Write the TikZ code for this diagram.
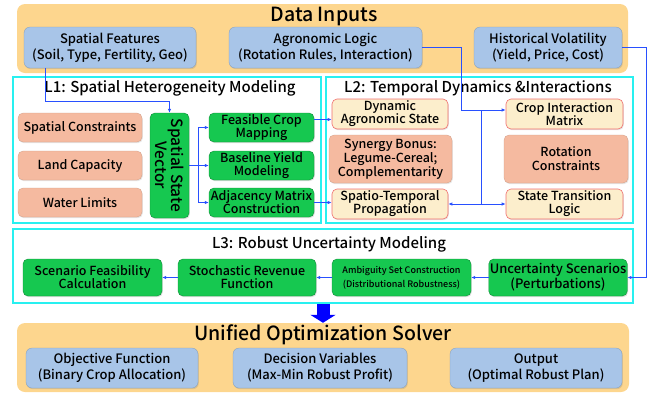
\documentclass[tikz,border=0pt]{standalone}
\usepackage{fontspec}
\setmainfont{Noto Sans CJK JP}[UprightFont=* Medium]
\usetikzlibrary{arrows.meta,shadows}

\definecolor{bandorange}{RGB}{253,214,142}
\definecolor{inblue}{RGB}{168,197,232}
\definecolor{framecyan}{RGB}{40,240,240}
\definecolor{boxsalmon}{RGB}{245,186,160}
\definecolor{boxgreen}{RGB}{22,200,80}
\definecolor{boxcream}{RGB}{252,238,204}
\definecolor{boxred}{RGB}{240,110,110}
\definecolor{linkblue}{RGB}{40,80,255}

\tikzset{
  band/.style={shape=rectangle,rounded corners=8pt,fill=bandorange,draw=none},
  bandtitle/.style={font=\fontsize{19.5}{22}\selectfont},
  layertitle/.style={font=\fontsize{15}{18}\selectfont},
  frame/.style={shape=rectangle,draw=framecyan,line width=1.5pt},
  inbox/.style={shape=rectangle,rounded corners=6pt,fill=inblue,draw=inblue!80!black,line width=0.3pt,
    align=center,inner sep=1pt,font=\fontsize{13}{16}\selectfont,
    drop shadow={opacity=0.25,shadow xshift=0.8pt,shadow yshift=-1.2pt}},
  salmonbox/.style={shape=rectangle,rounded corners=5pt,fill=boxsalmon,draw=boxsalmon!85!black,line width=0.3pt,
    align=center,inner sep=1pt,font=\fontsize{12.5}{14}\selectfont,
    drop shadow={opacity=0.2,shadow xshift=0.8pt,shadow yshift=-1.2pt}},
  greenbox/.style={shape=rectangle,rounded corners=5pt,fill=boxgreen,draw=boxgreen!70!black,line width=0.4pt,
    align=center,inner sep=1pt,font=\fontsize{12.5}{13}\selectfont,
    drop shadow={opacity=0.25,shadow xshift=0.8pt,shadow yshift=-1.2pt}},
  creambox/.style={shape=rectangle,rounded corners=5pt,fill=boxcream,draw=boxred,line width=0.6pt,
    align=center,inner sep=1pt,font=\fontsize{12.5}{13}\selectfont,
    drop shadow={opacity=0.2,shadow xshift=0.8pt,shadow yshift=-1.2pt}},
  link/.style={draw=linkblue,line width=0.9pt},
  arrow/.style={link,-{Latex[length=4pt,width=3.5pt]}},
  bigarrow/.style={draw=blue,line width=13pt,-{Triangle[length=8pt,width=25pt]}}
}

\begin{document}
\begin{tikzpicture}[x=1pt,y=-1pt]
\useasboundingbox (0,0) rectangle (649,397);

% data inputs
\node[band,minimum width=611pt,minimum height=69pt] (inputs) at (322.5,38.5) {};
\node[bandtitle] (inputstitle) at (324,16) {Data Inputs};
\node[inbox,minimum width=172pt,minimum height=41pt] (sf) at (110,47.5) {Spatial Features\\(Soil, Type, Fertility, Geo)};
\node[inbox,minimum width=193pt,minimum height=41pt] (al) at (325.5,47.5) {Agronomic Logic\\(Rotation Rules, Interaction)};
\node[inbox,minimum width=148pt,minimum height=41pt] (hv) at (548,47.5) {Historical Volatility\\(Yield, Price, Cost)};

% layer 1
\node[frame,minimum width=308pt,minimum height=146pt] (l1) at (167,150) {};
\node[layertitle] (l1title) at (170,88) {L1: Spatial Heterogeneity Modeling};
\node[salmonbox,minimum width=124pt,minimum height=29pt] (sc) at (80,127.5) {Spatial Constraints};
\node[salmonbox,minimum width=124pt,minimum height=29pt] (lc) at (80,165.5) {Land Capacity};
\node[salmonbox,minimum width=124pt,minimum height=29pt] (wl) at (80,202.5) {Water Limits};
\node[greenbox,minimum width=39pt,minimum height=105pt] (ssv) at (169.5,165.5) {};
\node[rotate=-90,align=center,font=\fontsize{15.5}{16}\selectfont] (ssvtext) at (ssv) {Spatial State\\Vector};
\node[greenbox,minimum width=105pt,minimum height=29pt] (fcm) at (261.5,127.5) {Feasible Crop\\Mapping};
\node[greenbox,minimum width=105pt,minimum height=29pt] (bym) at (261.5,165.5) {Baseline Yield\\Modeling};
\node[greenbox,minimum width=105pt,minimum height=29pt] (amc) at (261.5,202.5) {Adjacency Matrix\\Construction};

% layer 2
\node[frame,minimum width=307pt,minimum height=146pt] (l2) at (479.5,150) {};
\node[layertitle] (l2title) at (478,88) {L2: Temporal Dynamics \&Interactions};
\node[creambox,minimum width=116pt,minimum height=30pt] (das) at (390,114) {Dynamic\\Agronomic State};
\node[salmonbox,minimum width=123pt,minimum height=48pt] (sb) at (390.5,159) {Synergy Bonus:\\Legume-Cereal;\\Complementarity};
\node[creambox,minimum width=116pt,minimum height=30pt] (stp) at (390,204) {Spatio-Temporal\\Propagation};
\node[creambox,minimum width=117pt,minimum height=30pt] (cim) at (564.5,114) {Crop Interaction\\Matrix};
\node[salmonbox,minimum width=124pt,minimum height=48pt] (rc) at (566,159) {Rotation\\Constraints};
\node[creambox,minimum width=117pt,minimum height=30pt] (stl) at (564.5,204) {State Transition\\Logic};

% layer 3
\node[frame,minimum width=620pt,minimum height=74pt] (l3) at (323,266) {};
\node[layertitle] (l3title) at (329,244) {L3: Robust Uncertainty Modeling};
\node[greenbox,minimum width=139pt,minimum height=37pt] (sfc) at (92.5,277.5) {Scenario Feasibility\\Calculation};
\node[greenbox,minimum width=138pt,minimum height=37pt] (srf) at (247,277.5) {Stochastic Revenue\\Function};
\node[greenbox,minimum width=139pt,minimum height=37pt,font=\fontsize{9}{14}\selectfont] (asc) at (401.5,277.5) {Ambiguity Set Construction\\(Distributional Robustness)};
\node[greenbox,minimum width=138pt,minimum height=37pt,font=\fontsize{13}{15}\selectfont] (us) at (558,277.5) {Uncertainty Scenarios\\(Perturbations)};

% solver
\node[band,minimum width=612pt,minimum height=69pt] (solver) at (323,357.5) {};
\node[bandtitle] (solvertitle) at (323,335) {Unified Optimization Solver};
\node[inbox,minimum width=172pt,minimum height=40pt] (of) at (112,368) {Objective Function\\(Binary Crop Allocation)};
\node[inbox,minimum width=174pt,minimum height=40pt] (dv) at (320,368) {Decision Variables\\(Max-Min Robust Profit)};
\node[inbox,minimum width=172pt,minimum height=40pt] (out) at (536,368) {Output\\(Optimal Robust Plan)};

% connectors
\draw[arrow] ([xshift=22pt]sf.south west) |- ([yshift=11pt]ssv.north) -- (ssv.north);
\draw[link] (ssv.east) -- ++(9,0) coordinate (br);
\draw[link] (br |- fcm.west) -- (br |- amc.west);
\draw[arrow] (br) -- (bym.west);
\draw[arrow] (br |- fcm.west) -- (fcm.west);
\draw[arrow] (br |- amc.west) -- (amc.west);
\draw[arrow] ([yshift=8pt]fcm.east) -- ([yshift=8pt]fcm.east -| das.west);
\draw[arrow] (amc.east) -- (amc.east -| stp.west);

\draw[link] (al.east) -| ++(39,62.5) coordinate (jn);
\draw[arrow] (jn) -- (jn -| cim.west);
\draw[link] (jn) ++(20,0) coordinate (jd) -- (jd |- stp.east);
\draw[arrow] (jd |- stp.east) -- (stp.east);
\draw[arrow] (jd |- stl.west) -- (stl.west);

\draw[arrow] (hv.east) -- ++(24,0) |- (us.east);
\draw[arrow] (us.west) -- (asc.east);
\draw[arrow] (asc.west) -- (srf.east);
\draw[arrow] (srf.west) -- (sfc.east);

\draw[bigarrow] (l3.south) -- (solver.north);
\end{tikzpicture}
\end{document}
